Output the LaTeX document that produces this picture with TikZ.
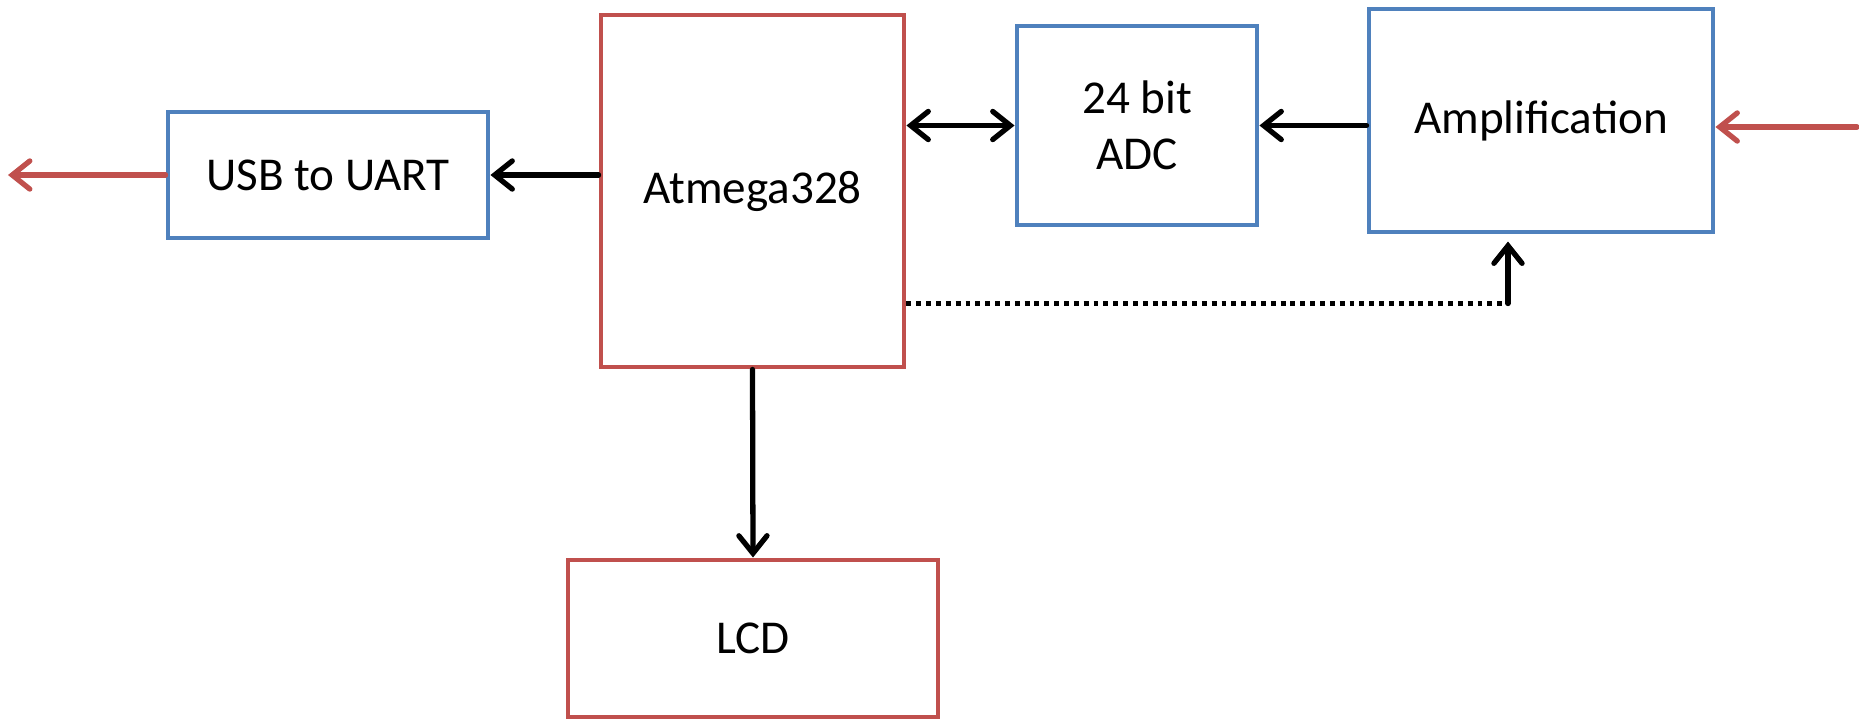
\documentclass[tikz,border=0pt]{standalone}
\usepackage{fontspec}
\setmainfont{Carlito}
\usepackage{tikz}
\usetikzlibrary{arrows.meta, positioning}

\definecolor{boxred}{HTML}{C0504D}
\definecolor{boxblue}{HTML}{4F81BD}

\begin{document}
\begin{tikzpicture}[x=0.01cm, y=-0.01cm,
    every node/.style={font=\fontsize{13.4}{16}\selectfont},
    redbox/.style={draw=boxred, line width=1.4pt, rectangle, align=center},
    bluebox/.style={draw=boxblue, line width=1.4pt, rectangle, align=center},
    tip/.style={Straight Barb[length=5pt, width=8pt, line cap=round]},
    link/.style={line width=1.5pt, line cap=round, -{Straight Barb[length=5pt, width=8pt, line cap=round]}}]
        \useasboundingbox (0,0) rectangle (1859,720);

        % nodes
        \node[bluebox, minimum width=320*0.01cm, minimum height=126*0.01cm] (usb) at (328,175) {USB to UART};
        \node[redbox, minimum width=303*0.01cm, minimum height=352*0.01cm] (mcu) at (752.5,191) {Atmega328};
        \node[bluebox, minimum width=240*0.01cm, minimum height=199*0.01cm] (adc) at (1137,125.5) {24 bit\\ADC};
        \node[bluebox, minimum width=344*0.01cm, minimum height=223*0.01cm] (amp) at (1541,120.5) {Amplification};
        \node[redbox, minimum width=370*0.01cm, minimum height=157*0.01cm] (lcd) at (753,638.5) {LCD};

        \coordinate (out) at (8,175);
        \coordinate (in) at (1857,127);
        \coordinate (turn) at (1508,303.5);

        % edges
        \draw[link, boxred] (usb.west) -- (out);
        \draw[link, boxred] (in) -- (amp.east |- in);
        \draw[link] (mcu.west |- usb) -- (usb.east);
        \draw[link, {Straight Barb[length=5pt, width=8pt, line cap=round]}-{Straight Barb[length=5pt, width=8pt, line cap=round]}] (mcu.east |- adc) -- (adc.west);
        \draw[link] (amp.west |- adc) -- (adc.east);
        \draw[link] (mcu.south) -- (lcd.north);

        \draw[line width=1.5pt, dash pattern=on 1.4pt off 1.4pt] (mcu.east |- turn) -- (turn);
        \draw[link, shorten >=2pt] (turn) -- (turn |- amp.south);

    \end{tikzpicture}
\end{document}
